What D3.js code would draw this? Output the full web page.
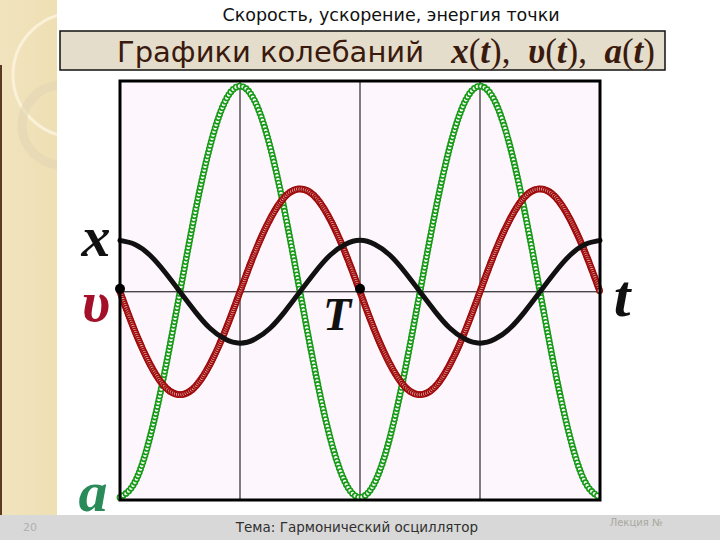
<!DOCTYPE html>
<html>
<head>
<meta charset="utf-8">
<script src="https://cdn.jsdelivr.net/npm/d3@7"></script>
<style>
    html, body { margin: 0; padding: 0; background: #fff; }
    svg { display: block; }
</style>
</head>
<body>
<svg id="chart" width="720" height="540"></svg>
<script>
/** ------------- DATA -------------- */

// time in periods T, one sample every T/16
const tVals = [0, 0.0625, 0.125, 0.1875, 0.25, 0.3125, 0.375, 0.4375, 0.5, 0.5625, 0.625, 0.6875, 0.75, 0.8125, 0.875, 0.9375,
    1, 1.0625, 1.125, 1.1875, 1.25, 1.3125, 1.375, 1.4375, 1.5, 1.5625, 1.625, 1.6875, 1.75, 1.8125, 1.875, 1.9375, 2];
const xVals = [1, 0.92, 0.71, 0.38, 0, -0.38, -0.71, -0.92, -1, -0.92, -0.71, -0.38, 0, 0.38, 0.71, 0.92,
    1, 0.92, 0.71, 0.38, 0, -0.38, -0.71, -0.92, -1, -0.92, -0.71, -0.38, 0, 0.38, 0.71, 0.92, 1];
const vVals = [0, -0.77, -1.41, -1.85, -2, -1.85, -1.41, -0.77, 0, 0.77, 1.41, 1.85, 2, 1.85, 1.41, 0.77,
    0, -0.77, -1.41, -1.85, -2, -1.85, -1.41, -0.77, 0, 0.77, 1.41, 1.85, 2, 1.85, 1.41, 0.77, 0];
const aVals = [-4, -3.7, -2.83, -1.53, 0, 1.53, 2.83, 3.7, 4, 3.7, 2.83, 1.53, 0, -1.53, -2.83, -3.7,
    -4, -3.7, -2.83, -1.53, 0, 1.53, 2.83, 3.7, 4, 3.7, 2.83, 1.53, 0, -1.53, -2.83, -3.7, -4];
const gridT = [0.5, 1, 1.5];
const gridY = [0];
const markT = [0, 1];

const slideTitle = "Скорость, ускорение, энергия точки";
const boxTitle = "Графики колебаний";
const mathParts = [["x", "(", "t", "), "], ["υ", "(", "t", "), "], ["a", "(", "t", ")"]];
const footerText = "Тема: Гармонический осциллятор";

/** ------------- SLIDE BACKGROUND -------------- */

const svg = d3.select("#chart");

const defs = svg.append("defs");
const grad = defs.append("linearGradient").attr("id", "strip").attr("x1", 0).attr("x2", 1);
grad.append("stop").attr("offset", "0%").attr("stop-color", "#f1e3bd");
grad.append("stop").attr("offset", "100%").attr("stop-color", "#eedfb4");
defs.append("clipPath").attr("id", "stripClip")
    .append("rect").attr("x", 0).attr("y", 0).attr("width", 57).attr("height", 515);

svg.append("rect").attr("x", 0).attr("y", 0).attr("width", 57).attr("height", 515).attr("fill", "url(#strip)");
const deco = svg.append("g").attr("clip-path", "url(#stripClip)");
deco.append("circle").attr("cx", 75).attr("cy", 75).attr("r", 62)
    .attr("fill", "none").attr("stroke", "#faf1d8").attr("stroke-width", 3);
deco.append("circle").attr("cx", 62).attr("cy", 125).attr("r", 40)
    .attr("fill", "none").attr("stroke", "#e3d6b4").attr("stroke-width", 9).attr("opacity", 0.6);
svg.append("rect").attr("x", 0).attr("y", 65).attr("width", 2).attr("height", 450).attr("fill", "#5a3a20");

// footer band
svg.append("rect").attr("x", 0).attr("y", 515).attr("width", 720).attr("height", 25).attr("fill", "#d8d8d8");
svg.append("text").attr("x", 30).attr("y", 531).attr("text-anchor", "middle")
    .style("font", "11px 'DejaVu Sans'").attr("fill", "#b0b0b0").text("20");
svg.append("text").attr("x", 357).attr("y", 532).attr("text-anchor", "middle")
    .style("font", "13.5px 'DejaVu Sans'").attr("fill", "#303030").text(footerText);
svg.append("text").attr("x", 636).attr("y", 526).attr("text-anchor", "middle")
    .style("font", "10px 'DejaVu Sans'").attr("fill", "#a8a8a0").text("Лекция №");

// titles
svg.append("text").attr("x", 391).attr("y", 21).attr("text-anchor", "middle")
    .style("font", "17.5px 'DejaVu Sans'").attr("fill", "#111").text(slideTitle);
svg.append("rect").attr("x", 60).attr("y", 31).attr("width", 605).attr("height", 39)
    .attr("fill", "#e5ddcb").attr("stroke", "#111").attr("stroke-width", 1.5);
svg.append("text").attr("x", 117).attr("y", 62)
    .style("font", "29px 'DejaVu Sans'").attr("fill", "#3b1a0e").text(boxTitle);

const math = svg.append("text").attr("x", 655).attr("y", 63).attr("text-anchor", "end")
    .attr("xml:space", "preserve").attr("fill", "#3b1a0e");
mathParts.forEach((part, k) => {
    part.forEach((s, j) => {
        math.append("tspan")
            .style("font", (j === 0 || j === 2) ? "italic bold 35px 'Liberation Serif'" : "35px 'Liberation Serif'")
            .text(j === 3 && k < 2 ? s + " " : s);
    });
});

/** ------------- PLOT -------------- */

const plot = { left: 120, right: 600, top: 81, bottom: 500 };
const x = d3.scaleLinear().domain([0, 2]).range([plot.left, plot.right]);
const y = d3.scaleLinear().domain([-4.05, 4.1]).range([plot.bottom, plot.top]);

svg.append("rect").attr("x", plot.left).attr("y", plot.top)
    .attr("width", plot.right - plot.left).attr("height", plot.bottom - plot.top).attr("fill", "#fdf7fd");

// grid
svg.append("g").selectAll("line").data(gridT).join("line")
    .attr("x1", (d) => x(d)).attr("x2", (d) => x(d))
    .attr("y1", plot.top).attr("y2", plot.bottom)
    .attr("stroke", "#000").attr("stroke-width", 1);
svg.append("g").selectAll("line").data(gridY).join("line")
    .attr("x1", plot.left).attr("x2", plot.right)
    .attr("y1", (d) => y(d)).attr("y2", (d) => y(d))
    .attr("stroke", "#000").attr("stroke-width", 1);

const lineOf = (vals) => d3.line()
    .x((d, i) => x(tVals[i]))
    .y((d) => y(d))
    .curve(d3.curveNatural)(vals);

/**
 * Draw a curve as a chain of small open circles placed along the path
 * @param {array} vals
 * @param {number} step
 * @param {object} st
 */
function markerCurve(vals, step, st) {
    const g = svg.append("g");
    const p = g.append("path").attr("d", lineOf(vals)).attr("fill", "none").attr("stroke", "none");
    const len = p.node().getTotalLength();
    const pts = d3.range(0, len, step).map((l) => p.node().getPointAtLength(l));
    g.selectAll("circle").data(pts).join("circle")
        .attr("cx", (d) => d.x).attr("cy", (d) => d.y).attr("r", st.r)
        .attr("fill", st.fill).attr("stroke", st.stroke).attr("stroke-width", st.sw);
}

markerCurve(aVals, 3.6, { r: 2.6, fill: "#fbfdfb", stroke: "#179a17", sw: 1.6 });
markerCurve(vVals, 2.2, { r: 2.7, fill: "#f0d4d4", stroke: "#a00c0c", sw: 1.5 });

svg.append("path").attr("d", lineOf(xVals))
    .attr("fill", "none").attr("stroke", "#111").attr("stroke-width", 5).attr("stroke-linecap", "round");

// frame
svg.append("rect").attr("x", plot.left).attr("y", plot.top)
    .attr("width", plot.right - plot.left).attr("height", plot.bottom - plot.top)
    .attr("fill", "none").attr("stroke", "#000").attr("stroke-width", 3);

// points at t = 0 and t = T
svg.append("g").selectAll("circle").data(markT).join("circle")
    .attr("cx", (d) => x(d)).attr("cy", y(0) - 3).attr("r", 5).attr("fill", "#000");

/** ------------- LABELS -------------- */

const lab = (txt, px, py, size, color) =>
    svg.append("text").attr("x", px).attr("y", py).attr("text-anchor", "middle")
        .style("font", `italic bold ${size}px 'Liberation Serif'`).attr("fill", color).text(txt);

lab("x", 96, 256, 58, "#111");
lab("υ", 96, 321, 58, "#a4102a");
lab("a", 93, 511, 58, "#2a8a5a");
lab("T", 337, 330, 46, "#111");
lab("t", 622, 316, 60, "#111");
</script>
</body>
</html>
